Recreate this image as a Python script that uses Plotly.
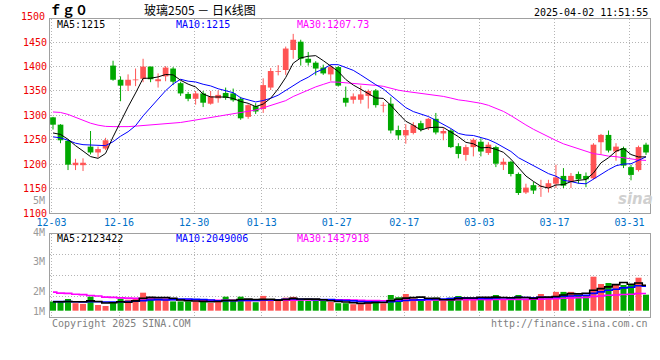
import plotly.graph_objects as go

# ---------------- data ----------------
dates = ["12-03","12-04","12-05","12-06","12-09","12-10","12-11","12-12","12-13","12-16",
         "12-17","12-18","12-19","12-20","12-23","12-24","12-25","12-26","12-27","12-30",
         "12-31","01-02","01-03","01-06","01-07","01-08","01-09","01-10","01-13","01-14",
         "01-15","01-16","01-17","01-20","01-21","01-22","01-23","01-24","01-27","02-05",
         "02-06","02-07","02-10","02-11","02-12","02-13","02-14","02-17","02-18","02-19",
         "02-20","02-21","02-24","02-25","02-26","02-27","02-28","03-03","03-04","03-05",
         "03-06","03-07","03-10","03-11","03-12","03-13","03-14","03-17","03-18","03-19",
         "03-20","03-21","03-24","03-25","03-26","03-27","03-28","03-31","04-01","04-02"]

opens = [1296,1281,1248,1198,1198,1236,1224,1232,1402,1373,
         1361,1372,1375,1400,1370,1380,1396,1366,1344,1334,
         1345,1324,1335,1346,1345,1334,1297,1319,1313,1357,
         1389,1393,1434,1451,1416,1408,1398,1384,1399,1336,
         1332,1332,1340,1351,1320,1324,1270,1259,1264,1284,
         1274,1293,1263,1269,1237,1219,1235,1246,1223,1235,
         1199,1205,1180,1142,1157,1154,1151,1160,1176,1164,
         1180,1176,1171,1245,1260,1226,1233,1194,1188,1240]
highs = [1297,1282,1250,1211,1212,1268,1236,1254,1412,1380,
         1384,1396,1416,1400,1386,1401,1399,1369,1348,1350,
         1350,1350,1351,1357,1355,1338,1323,1325,1376,1397,
         1403,1441,1467,1455,1430,1411,1404,1403,1401,1359,
         1345,1361,1353,1354,1327,1337,1279,1282,1286,1289,
         1295,1305,1274,1272,1243,1240,1253,1253,1245,1238,
         1212,1207,1183,1160,1164,1168,1168,1199,1192,1182,
         1185,1183,1243,1262,1269,1243,1236,1199,1238,1244]
lows = [1271,1243,1188,1188,1186,1220,1214,1229,1371,1329,
        1350,1360,1368,1368,1357,1370,1362,1340,1329,1322,
        1317,1322,1326,1332,1328,1291,1293,1303,1305,1352,
        1382,1383,1416,1402,1402,1382,1383,1371,1359,1318,
        1324,1324,1314,1316,1306,1263,1250,1242,1261,1267,
        1270,1261,1249,1233,1212,1207,1216,1216,1219,1194,
        1188,1175,1137,1139,1139,1133,1142,1151,1151,1151,
        1160,1153,1169,1221,1224,1207,1192,1167,1185,1219]
closes = [1281,1249,1199,1203,1203,1224,1231,1249,1373,1361,
          1373,1373,1400,1374,1374,1398,1369,1345,1334,1345,
          1326,1339,1342,1336,1331,1294,1321,1308,1362,1391,
          1390,1437,1455,1416,1408,1396,1386,1399,1361,1326,
          1339,1343,1350,1321,1321,1269,1259,1270,1280,1271,
          1293,1265,1268,1235,1221,1235,1250,1226,1240,1201,
          1205,1180,1141,1152,1146,1155,1161,1173,1156,1176,
          1169,1169,1240,1260,1228,1236,1197,1178,1235,1224]

ma5 = [1264,1261,1251,1238,
       1227.0,1215.6,1212.0,1222.0,1256.0,1287.6,1317.4,1345.8,1376.0,1376.2,
       1378.8,1383.8,1383.0,1372.0,1364.0,1358.2,1343.8,1337.8,1337.2,1337.6,
       1334.8,1328.4,1324.8,1318.0,1323.2,1335.2,1354.4,1377.6,1407.0,1417.8,
       1421.2,1422.4,1412.2,1401.0,1390.0,1373.6,1362.2,1353.6,1343.8,1335.8,
       1334.8,1320.8,1304.0,1288.0,1279.8,1269.8,1274.6,1275.8,1275.4,1266.4,
       1256.4,1244.8,1241.8,1233.4,1234.4,1230.4,1224.4,1210.4,1193.4,1175.8,
       1164.8,1154.8,1151.0,1157.4,1158.2,1164.2,1167.0,1168.6,1182.0,1202.8,
       1213.2,1226.6,1232.2,1219.8,1214.8,1215]
ma10 = [1256,1254,1249,1243,1240,1239,1238,1238,1246,
        1257.3,1266.5,1278.9,1299.0,1316.1,1333.2,1350.6,1364.4,1374.0,1370.1,
        1368.5,1363.8,1360.4,1354.6,1350.8,1346.5,1336.1,1331.3,1327.6,1330.4,
        1335.0,1341.4,1351.2,1362.5,1370.5,1378.2,1388.4,1394.9,1404.0,1403.9,
        1397.4,1392.3,1382.9,1372.4,1362.9,1354.2,1341.5,1328.8,1315.9,1307.8,
        1302.3,1297.7,1289.9,1281.7,1273.1,1263.1,1259.7,1258.8,1254.4,1250.4,
        1243.4,1234.6,1226.1,1213.4,1205.1,1197.6,1189.6,1180.7,1175.4,1167.0,
        1164.5,1160.9,1159.8,1169.7,1180.5,1188.7,1196.8,1200.4,1200.9,1208.8,1215]
ma30 = [1307,1306,1302,1296,1289,1284,1280,1277.5,1277,1276.5,
        1277,1278,1279,1280,1281,1282.5,1284,1285.5,1288,1290.5,
        1293,1295,1297.5,1300,1302,1304.5,1307,1311,1315.5,
        1320.3,1323.9,1330.2,1338.7,1345.8,1352.6,1358.4,1363.5,1368.5,1368.1,
        1367.0,1365.8,1364.8,1363.2,1361.4,1359.6,1355.3,1351.7,1349.2,1347.4,
        1344.9,1343.8,1341.3,1338.9,1335.5,1331.8,1329.9,1327.5,1324.8,1320.7,
        1314.4,1308.2,1299.6,1289.2,1280.4,1271.6,1263.6,1256.1,1248.6,1241.7,
        1236.7,1231.1,1225.3,1221.6,1219.6,1216.5,1215.4,1213.3,1210.2,1208.7,1207.73]

volumes = [767000,767000,975000,625000,567000,1167000,475000,392000,708000,1000000,
           917000,1067000,1500000,1067000,917000,917000,775000,775000,775000,775000,
           775000,642000,892000,1167000,817000,1167000,792000,708000,1233000,850000,
           817000,1083000,1150000,958000,817000,817000,817000,733000,625000,625000,
           542000,542000,892000,808000,608000,1308000,1125000,1392000,1025000,808000,
           808000,1083000,808000,1083000,1225000,1083000,1083000,1142000,1025000,1308000,
           917000,983000,1308000,958000,983000,1392000,1025000,1567000,1567000,1567000,
           1275000,1275000,2833000,2225000,2308000,2225000,2142000,2142000,2750000,1333000]
vma5 = [750000,750000,770000,740000,
        740000,820000,762000,645000,662000,748000,698000,817000,1038000,1110000,
        1093000,1093000,1035000,890000,832000,803000,775000,748000,772000,850000,
        858000,937000,967000,930000,943000,950000,880000,938000,1027000,972000,
        965000,965000,912000,828000,762000,723000,668000,613000,645000,682000,
        678000,832000,948000,1048000,1092000,1132000,1032000,1023000,907000,918000,
        1002000,1057000,1057000,1123000,1112000,1128000,1095000,1075000,1108000,1095000,
        1030000,1125000,1133000,1185000,1307000,1423000,1400000,1450000,1703000,1835000,
        1983000,2173000,2347000,2208000,2313000,2123422]
vma10 = [760000,760000,770000,740000,730000,750000,740000,720000,720000,
         744000,759000,789000,842000,886000,921000,896000,926000,964000,971000,
         948000,934000,892000,831000,841000,831000,856000,858000,851000,897000,
         904000,908000,953000,978000,958000,958000,923000,925000,928000,867000,
         844000,817000,763000,737000,722000,701000,750000,781000,847000,887000,
         905000,932000,986000,978000,1005000,1067000,1044000,1040000,1015000,1015000,
         1065000,1076000,1066000,1116000,1103000,1079000,1110000,1104000,1147000,1201000,
         1227000,1263000,1292000,1444000,1571000,1703000,1787000,1898000,1956000,2074000,2049006]
vma30 = [1550000,1460000,1440000,1370000,1340000,1270000,1220000,1130000,1110000,1070000,
         1050000,1030000,1000000,980000,960000,950000,930000,910000,900000,890000,
         880000,870000,870000,870000,860000,860000,860000,860000,865000,
         866000,867000,878000,884000,895000,903000,891000,903000,914000,911000,
         899000,886000,869000,849000,840000,830000,843000,854000,875000,883000,
         884000,886000,900000,898000,895000,908000,906000,915000,930000,923000,
         938000,941000,938000,943000,943000,949000,968000,975000,1003000,1034000,
         1066000,1090000,1114000,1179000,1226000,1283000,1314000,1348000,1373000,1430000,1437918]

tick_dates = ["12-03","12-16","12-30","01-13","01-27","02-17","03-03","03-17","03-31"]
price_ticks = [1100,1150,1200,1250,1300,1350,1400,1450]
top_price_label = "1500"
vol_labels = ["5M","4M","3M","2M","1M"]
title_text = "玻璃2505 － 日K线图"
code_text = "ｆｇ０"
stamp_text = "2025-04-02 11:51:55"
price_ma_text = ["MA5:1215", "MA10:1215", "MA30:1207.73"]
vol_ma_text = ["MA5:2123422", "MA10:2049006", "MA30:1437918"]

# ---------------- style / layout ----------------
W, H = 660, 360
L, R, T, B = 50, 10, 19, 43
PW, PH = W - L - R, H - T - B
MONO = "DejaVu Sans Mono"
RED = "#ff5555"
GREEN = "#00a800"
BLUE_TXT = "#0070c8"
GRID = "#b4b4b4"
FRAME = "#a0a0a0"

def pxx(px):
    return (px - L) / PW

def pxy(py):
    return (H - B - py) / PH

n = len(dates)
idx = list(range(n))
x_range = [-0.4, n - 1 + 0.53]
up = [c >= o for o, c in zip(opens, closes)]
cols = [RED if u else GREEN for u in up]

fig = go.Figure()

# candle bodies
fig.add_trace(go.Bar(
    x=idx, base=[min(o, c) for o, c in zip(opens, closes)],
    y=[max(abs(c - o), 1.6) for o, c in zip(opens, closes)],
    width=0.76, marker=dict(color=cols, line_width=0),
    xaxis="x", yaxis="y", hoverinfo="skip"))

# wicks
for flag, colr in ((True, RED), (False, GREEN)):
    wx, wy = [], []
    for i in idx:
        if up[i] == flag:
            wx += [i, i, None]
            wy += [lows[i], highs[i], None]
    fig.add_trace(go.Scatter(x=wx, y=wy, mode="lines",
                             line=dict(color=colr, width=1),
                             xaxis="x", yaxis="y", hoverinfo="skip"))

# price MAs
for arr, colr in ((ma30, "#ff00ff"), (ma10, "#0000ff"), (ma5, "#000000")):
    fig.add_trace(go.Scatter(x=idx, y=arr, mode="lines",
                             line=dict(color=colr, width=1),
                             xaxis="x", yaxis="y", hoverinfo="skip"))

# volume bars
fig.add_trace(go.Bar(x=idx, y=volumes, width=0.8,
                     marker=dict(color=cols, line_width=0),
                     xaxis="x2", yaxis="y2", hoverinfo="skip"))
for arr, colr in ((vma30, "#ff00ff"), (vma10, "#0000ff"), (vma5, "#000000")):
    fig.add_trace(go.Scatter(x=idx, y=arr, mode="lines", line_shape="hvh",
                             line=dict(color=colr, width=1.6),
                             xaxis="x2", yaxis="y2", hoverinfo="skip"))

tick_pos = []
for d in tick_dates:
    p = dates.index(d) - 0.2
    tick_pos.append(max(p, x_range[0]))

vol_range = [-0.525e6, 6.39e6]
vstep = (vol_range[1] - vol_range[0]) / 4
vol_grid = [vol_range[0] + k * vstep for k in (1, 2, 3)]

axis_common = dict(showline=True, mirror=True, linecolor=FRAME, linewidth=1,
                   showgrid=True, gridcolor=GRID, griddash="1px,2px", gridwidth=1,
                   zeroline=False, ticks="")

fig.update_layout(
    width=W, height=H,
    margin=dict(l=L, r=R, t=T, b=B, pad=0),
    paper_bgcolor="white", plot_bgcolor="white",
    showlegend=False, barmode="overlay", hovermode=False,
    xaxis=dict(domain=[0, 1], anchor="y", range=x_range,
               tickmode="array", tickvals=tick_pos, ticktext=tick_dates,
               tickfont=dict(family=MONO, size=10, color=BLUE_TXT), **axis_common),
    yaxis=dict(domain=[pxy(213), 1], anchor="x", range=[1100, 1497.5],
               tickmode="array", tickvals=price_ticks,
               ticktext=[str(v) for v in price_ticks],
               tickfont=dict(family=MONO, size=10, color="#ee0000"), **axis_common),
    xaxis2=dict(domain=[0, 1], anchor="y2", range=x_range,
                tickmode="array", tickvals=tick_pos, showticklabels=False, **axis_common),
    yaxis2=dict(domain=[0, pxy(234)], anchor="x2", range=vol_range,
                tickmode="array", tickvals=vol_grid, showticklabels=False, **axis_common),
)

def note(text, px, py, color, size=10, anchor="left", family=MONO, bold=False, italic=False):
    return dict(text=text, x=pxx(px), y=pxy(py), xref="paper", yref="paper",
                xanchor=anchor, yanchor="middle", showarrow=False,
                font=dict(family=family, size=size, color=color,
                          weight="bold" if bold else "normal",
                          style="italic" if italic else "normal"))

ann = []
ann.append(note(code_text, 47, 10, "#000000", size=13, family="Noto Sans CJK SC", bold=True))
ann.append(note(title_text, 200, 10, "#000000", size=12, anchor="center", family="Noto Sans CJK SC"))
ann.append(note(stamp_text, 650, 12, "#000000", anchor="right"))
ann.append(note(top_price_label, 47, 17, "#ee0000", anchor="right"))
for txt, px, colr in zip(price_ma_text, (55, 174, 295), ("#000000", "#0000ff", "#ff00ff")):
    ann.append(note(txt, px, 24, colr))
for txt, px, colr in zip(vol_ma_text, (55, 174, 295), ("#000000", "#0000ff", "#ff00ff")):
    ann.append(note(txt, px, 238, colr))
for txt, py in zip(vol_labels, (200, 232, 261, 291, 311)):
    ann.append(note(txt, 47, py, "#999999", anchor="right"))
ann.append(note("Copyright 2025 SINA.COM", 50, 323.5, "#808080"))
ann.append(note("http://finance.sina.com.cn", 650, 323.5, "#808080", anchor="right"))
ann.append(note("sina", 635, 199, "#d0d0d0", size=15, anchor="center",
                family="DejaVu Sans", bold=True, italic=True))
fig.update_layout(annotations=ann)

fig.write_html("out.html", config={"displayModeBar": False, "staticPlot": True},
               post_script="document.body.style.margin='0';document.body.style.padding='0';")
